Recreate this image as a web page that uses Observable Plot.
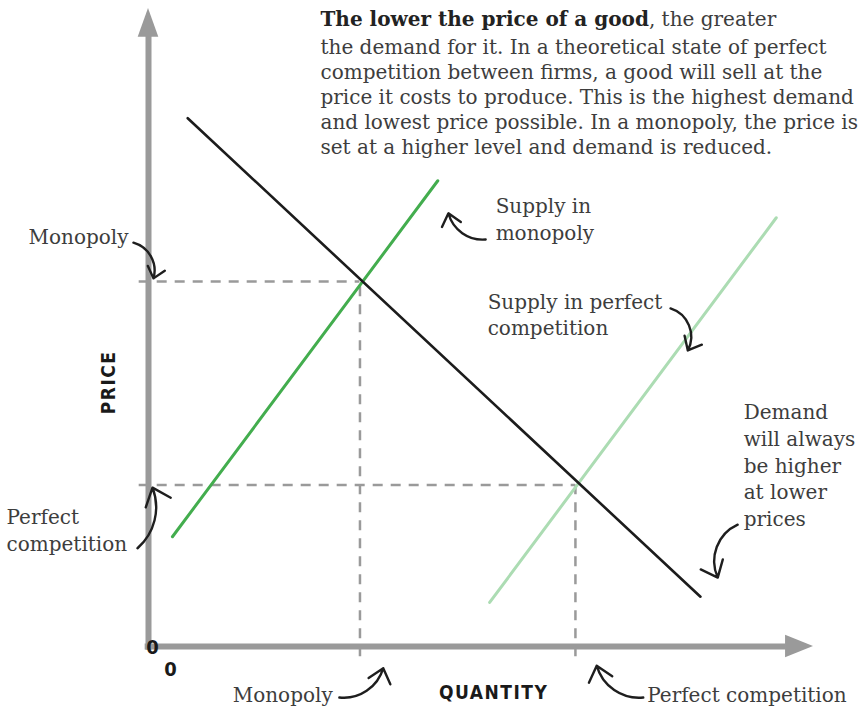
<!DOCTYPE html>
<html>
<head>
<meta charset="utf-8">
<script src="https://cdn.jsdelivr.net/npm/d3@7"></script>
<script src="https://cdn.jsdelivr.net/npm/@observablehq/plot@0.6"></script>
<style>
  html, body { margin: 0; padding: 0; background: #ffffff; }
  #chart svg { display: block; overflow: visible; }
</style>
</head>
<body>
<div id="chart"></div>
<script>
// ---------------- DATA ----------------
// Curves in (quantity, price) units
const demandQ = [5.9, 83.0];
const demandP = [82.8, 7.8];
const supplyMonopolyQ = [3.6, 43.5];
const supplyMonopolyP = [17.2, 73.0];
const supplyPerfectQ = [51.3, 94.4];
const supplyPerfectP = [6.9, 67.2];

// Equilibria (where supply meets demand)
const equilibriumNames = ["Monopoly", "Perfect competition"];
const equilibriumQ = [31.8, 64.2];
const equilibriumP = [57.2, 25.3];

// Texts
const paragraphBold = "The lower the price of a good";
const paragraphFirstRest = ", the greater";
const paragraphLines = [
  "the demand for it. In a theoretical state of perfect",
  "competition between firms, a good will sell at the",
  "price it costs to produce. This is the highest demand",
  "and lowest price possible. In a monopoly, the price is",
  "set at a higher level and demand is reduced."
];
const axisTitleX = "QUANTITY";
const axisTitleY = "PRICE";
const originLabels = ["0", "0"];

// Annotation labels (text, quantity, price)
const labelsStartText = ["Supply in\nmonopoly", "Supply in perfect\ncompetition",
  "Demand\nwill always\nbe higher\nat lower\nprices", "Perfect\ncompetition", "Perfect competition"];
const labelsStartQ = [52.2, 51.0, 89.5, -21.35, 75.0];
const labelsStartP = [67.2, 52.2, 28.6, 18.4, -7.3];
const labelsEndText = ["Monopoly", "Monopoly"];
const labelsEndQ = [-3.0, 27.7];
const labelsEndP = [64.4, -7.3];

// Curved pointer arrows: start (q1,p1) -> tip (q2,p2), bend in degrees
const arrowQ1 = [-2.26, -1.65, 50.7, 78.5, 88.6, 28.7, 74.4];
const arrowP1 = [63.3, 15.4, 63.8, 53.0, 19.1, -8.0, -8.0];
const arrowQ2 = [0.75, 0.6, 45.1, 81.1, 85.6, 35.3, 67.4];
const arrowP2 = [57.7, 24.9, 67.9, 46.4, 10.8, -3.4, -3.0];
const arrowBend = [45, -35, 40, 50, -45, -40, 40];

// ---------------- LAYOUT / STYLE ----------------
const AXIS = "#9a9a9a";
const TXT = "#3d3d3d";
const SERIF = "DejaVu Serif";
const NARROW = "'Liberation Sans Narrow','DejaVu Sans Condensed','Arial Narrow',sans-serif";
const FS = 20;
const X_MAX = 100, Y_MAX = 100;

const pts = (qs, ps) => qs.map((q, i) => ({q, p: ps[i]}));
const eq = equilibriumNames.map((name, i) => ({name, q: equilibriumQ[i], p: equilibriumP[i]}));
const lab = (ts, qs, ps) => ts.map((t, i) => ({t, q: qs[i], p: ps[i]}));
const arrows = arrowQ1.map((q1, i) => ({q1, p1: arrowP1[i], q2: arrowQ2[i], p2: arrowP2[i], bend: arrowBend[i]}));

// axis arrowheads
const yHead = [{p: Y_MAX - 4.5, a: -1.55, b: 1.55}, {p: Y_MAX, a: 0, b: 0}];
const xHead = [{q: X_MAX - 4.2, a: -1.75, b: 1.75}, {q: X_MAX, a: 0, b: 0}];

// measure bold text for inline continuation
const ctx = document.createElement("canvas").getContext("2d");
ctx.font = `bold ${FS}px "${SERIF}"`;
const boldWidth = ctx.measureText(paragraphBold).width;

const PARA_Q = 25.86, PARA_P1 = 99.55, PARA_P2 = 95.65;

const chart = Plot.plot({
  width: 859,
  height: 711,
  marginLeft: 148,
  marginRight: 46,
  marginTop: 8,
  marginBottom: 65,
  x: {domain: [0, X_MAX], axis: null},
  y: {domain: [0, Y_MAX], axis: null},
  style: {background: "#ffffff", overflow: "visible"},
  marks: [
    // dashed guides
    Plot.ruleY(eq, {y: "p", x1: -1.4, x2: "q", stroke: AXIS, strokeWidth: 2.5, strokeDasharray: "10,8"}),
    Plot.ruleX(eq, {x: "q", y1: -1.6, y2: "p", stroke: AXIS, strokeWidth: 2.5, strokeDasharray: "10,8"}),
    // axes
    Plot.ruleX([0], {y1: -0.6, y2: Y_MAX - 4.4, stroke: AXIS, strokeWidth: 6}),
    Plot.ruleY([0], {x1: -0.5, x2: X_MAX - 4.1, stroke: AXIS, strokeWidth: 6}),
    Plot.areaX(yHead, {y: "p", x1: "a", x2: "b", fill: AXIS}),
    Plot.areaY(xHead, {x: "q", y1: "a", y2: "b", fill: AXIS}),
    // supply curves
    Plot.line(pts(supplyPerfectQ, supplyPerfectP), {x: "q", y: "p", stroke: "#acdcb3", strokeWidth: 3}),
    Plot.line(pts(supplyMonopolyQ, supplyMonopolyP), {x: "q", y: "p", stroke: "#43ad4e", strokeWidth: 3}),
    // demand
    Plot.line(pts(demandQ, demandP), {x: "q", y: "p", stroke: "#1c1c1c", strokeWidth: 2.6}),
    // pointer arrows
    ...arrows.map(a => Plot.arrow([a], {x1: "q1", y1: "p1", x2: "q2", y2: "p2", bend: a.bend,
      stroke: "#1e1e1e", strokeWidth: 2.4, headLength: 13, headAngle: 80})),
    // paragraph
    Plot.text([paragraphBold], {x: PARA_Q, y: PARA_P1, text: d => d, textAnchor: "start", lineAnchor: "top",
      fontFamily: SERIF, fontSize: FS, fontWeight: "bold", fill: "#222"}),
    Plot.text([paragraphFirstRest], {x: PARA_Q, y: PARA_P1, dx: boldWidth, text: d => d, textAnchor: "start", lineAnchor: "top",
      fontFamily: SERIF, fontSize: FS, fill: TXT}),
    Plot.text([paragraphLines.join("\n")], {x: PARA_Q, y: PARA_P2, text: d => d, textAnchor: "start", lineAnchor: "top",
      lineHeight: 1.25, fontFamily: SERIF, fontSize: FS, fill: TXT}),
    // labels
    Plot.text(lab(labelsStartText, labelsStartQ, labelsStartP), {x: "q", y: "p", text: "t", textAnchor: "start",
      lineHeight: 1.34, fontFamily: SERIF, fontSize: FS, fill: TXT}),
    Plot.text(lab(labelsEndText, labelsEndQ, labelsEndP), {x: "q", y: "p", text: "t", textAnchor: "end",
      lineHeight: 1.34, fontFamily: SERIF, fontSize: FS, fill: TXT}),
    // axis titles
    Plot.text([axisTitleX], {x: 51.9, y: -7.3, text: d => d, fontFamily: NARROW, fontWeight: "bold", fontSize: 19, fill: "#1a1a1a"}),
    Plot.text([axisTitleY], {x: -5.9, y: 41.4, text: d => d, rotate: -90, fontFamily: NARROW, fontWeight: "bold", fontSize: 19, fill: "#1a1a1a"}),
    // origin zeros
    Plot.text(originLabels, {x: [0.6, 3.3], y: [-0.2, -3.6], text: d => d, fontFamily: NARROW, fontWeight: "bold", fontSize: 20, fill: "#1a1a1a"})
  ]
});

d3.select(chart).selectAll("text").filter(function() {
  const t = this.textContent;
  return t === axisTitleX || t === axisTitleY;
}).attr("letter-spacing", "1.5px");

document.getElementById("chart").appendChild(chart);
</script>
</body>
</html>
